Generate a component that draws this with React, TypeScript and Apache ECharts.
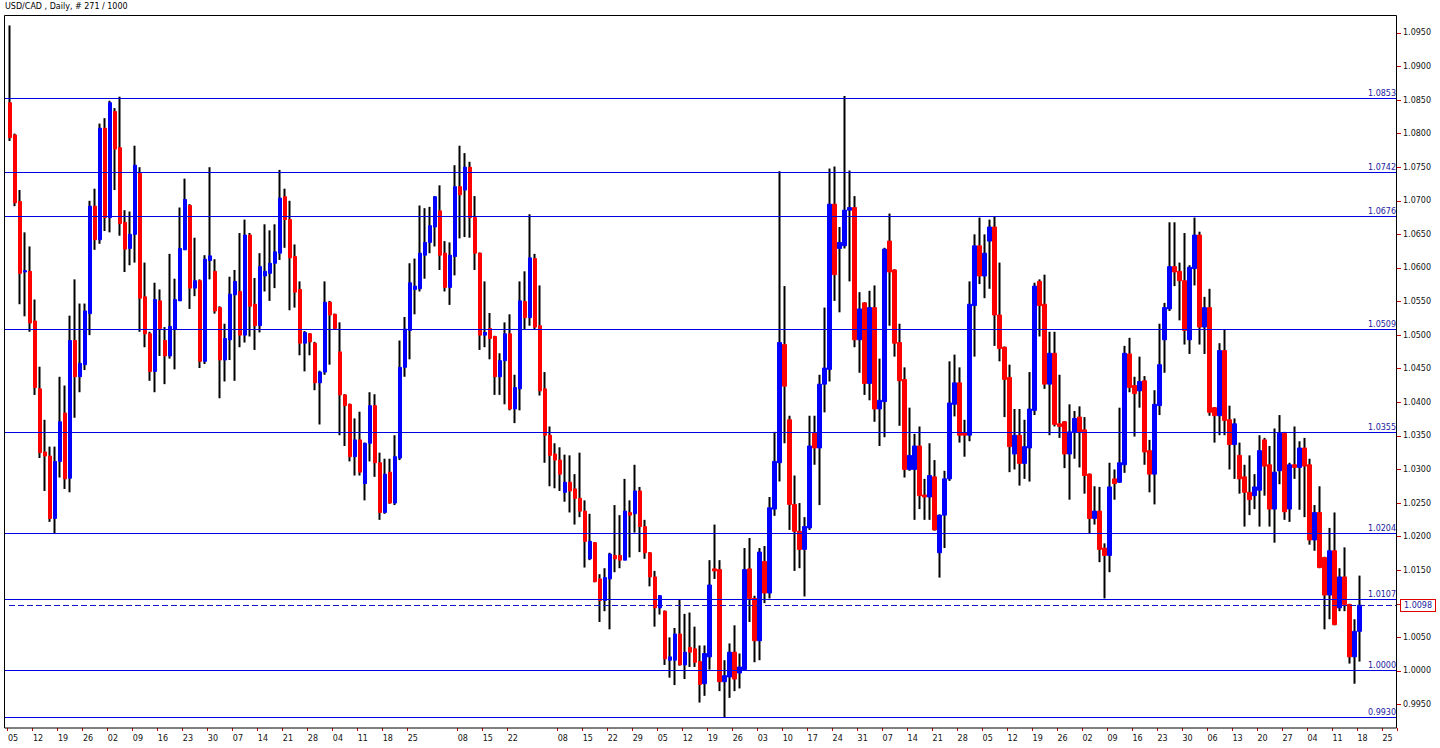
import React, { useEffect, useRef } from "react";
import * as echarts from "echarts";

const chartTitle = "USD/CAD , Daily, # 271 / 1000";

const openPrices = [
  1.0846, 1.0798, 1.0699, 1.0594, 1.0595, 1.0521, 1.0420, 1.0326, 1.0320, 1.0227,
  1.0312, 1.0384, 1.0287, 1.0492, 1.0438, 1.0456, 1.0532, 1.0692, 1.0642, 1.0808,
  1.0675, 1.0833, 1.0779, 1.0668, 1.0629, 1.0650, 1.0741, 1.0557, 1.0502, 1.0446,
  1.0551, 1.0492, 1.0469, 1.0509, 1.0551, 1.0627, 1.0693, 1.0570, 1.0581, 1.0461,
  1.0611, 1.0595, 1.0541, 1.0463, 1.0493, 1.0560, 1.0565, 1.0500, 1.0649, 1.0546,
  1.0514, 1.0588, 1.0592, 1.0607, 1.0622, 1.0706, 1.0672, 1.0617, 1.0568, 1.0488,
  1.0502, 1.0488, 1.0429, 1.0445, 1.0549, 1.0531, 1.0475, 1.0411, 1.0397, 1.0319,
  1.0344, 1.0279, 1.0339, 1.0395, 1.0310, 1.0236, 1.0296, 1.0250, 1.0317, 1.0452,
  1.0507, 1.0568, 1.0569, 1.0619, 1.0638, 1.0661, 1.0685, 1.0622, 1.0571, 1.0617,
  1.0721, 1.0716, 1.0750, 1.0675, 1.0622, 1.0500, 1.0510, 1.0498, 1.0438, 1.0462,
  1.0502, 1.0390, 1.0420, 1.0550, 1.0526, 1.0614, 1.0514, 1.0420, 1.0351, 1.0323,
  1.0314, 1.0266, 1.0281, 1.0271, 1.0257, 1.0238, 1.0167, 1.0191, 1.0137, 1.0105,
  1.0137, 1.0172, 1.0172, 1.0165, 1.0236, 1.0234, 1.0268, 1.0215, 1.0176, 1.0140,
  1.0094, 1.0089, 1.0016, 1.0016, 1.0055, 1.0009, 1.0035, 1.0033, 1.0014, 0.9981,
  1.0021, 1.0152, 1.0151, 0.9984, 0.9991, 1.0028, 0.9997, 1.0002, 1.0152, 1.0108,
  1.0045, 1.0163, 1.0116, 1.0241, 1.0310, 1.0486, 1.0374, 1.0248, 1.0208, 1.0181,
  1.0213, 1.0354, 1.0332, 1.0427, 1.0449, 1.0695, 1.0629, 1.0633, 1.0686, 1.0690,
  1.0493, 1.0548, 1.0428, 1.0541, 1.0390, 1.0401, 1.0640, 1.0597, 1.0489, 1.0434,
  1.0300, 1.0300, 1.0335, 1.0262, 1.0259, 1.0289, 1.0176, 1.0232, 1.0286, 1.0397,
  1.0429, 1.0354, 1.0351, 1.0544, 1.0633, 1.0588, 1.0640, 1.0661, 1.0530, 1.0482,
  1.0437, 1.0323, 1.0351, 1.0309, 1.0332, 1.0388, 1.0580, 1.0546, 1.0427, 1.0473,
  1.0368, 1.0371, 1.0323, 1.0356, 1.0378, 1.0359, 1.0293, 1.0227, 1.0238, 1.0183,
  1.0172, 1.0286, 1.0281, 1.0307, 1.0472, 1.0425, 1.0417, 1.0432, 1.0328, 1.0293,
  1.0395, 1.0493, 1.0539, 1.0602, 1.0595, 1.0581, 1.0493, 1.0599, 1.0649, 1.0512,
  1.0541, 1.0392, 1.0380, 1.0477, 1.0374, 1.0337, 1.0321, 1.0289, 1.0266, 1.0261,
  1.0269, 1.0344, 1.0307, 1.0241, 1.0298, 1.0354, 1.0241, 1.0307, 1.0303, 1.0332,
  1.0307, 1.0195, 1.0236, 1.0169, 1.0113, 1.0179, 1.0094, 1.0140, 1.0099, 1.0021,
  1.0059,
];

const highPrices = [
  1.0961, 1.0800, 1.0716, 1.0653, 1.0632, 1.0553, 1.0453, 1.0374, 1.0334, 1.0334,
  1.0438, 1.0425, 1.0529, 1.0583, 1.0547, 1.0547, 1.0700, 1.0718, 1.0815, 1.0823,
  1.0849, 1.0838, 1.0855, 1.0686, 1.0684, 1.0782, 1.0750, 1.0608, 1.0505, 1.0578,
  1.0568, 1.0512, 1.0621, 1.0584, 1.0690, 1.0733, 1.0695, 1.0645, 1.0583, 1.0619,
  1.0750, 1.0613, 1.0543, 1.0517, 1.0587, 1.0597, 1.0652, 1.0672, 1.0652, 1.0585,
  1.0622, 1.0665, 1.0656, 1.0665, 1.0746, 1.0718, 1.0700, 1.0635, 1.0580, 1.0506,
  1.0503, 1.0490, 1.0447, 1.0580, 1.0551, 1.0532, 1.0519, 1.0412, 1.0398, 1.0376,
  1.0386, 1.0340, 1.0415, 1.0412, 1.0325, 1.0316, 1.0316, 1.0351, 1.0492, 1.0527,
  1.0607, 1.0614, 1.0693, 1.0689, 1.0691, 1.0707, 1.0723, 1.0640, 1.0638, 1.0753,
  1.0782, 1.0771, 1.0758, 1.0707, 1.0623, 1.0580, 1.0533, 1.0499, 1.0473, 1.0519,
  1.0531, 1.0441, 1.0580, 1.0595, 1.0680, 1.0621, 1.0574, 1.0445, 1.0364, 1.0339,
  1.0333, 1.0322, 1.0321, 1.0293, 1.0325, 1.0254, 1.0234, 1.0192, 1.0144, 1.0153,
  1.0176, 1.0247, 1.0232, 1.0286, 1.0254, 1.0307, 1.0274, 1.0225, 1.0177, 1.0149,
  1.0113, 1.0090, 1.0050, 1.0064, 1.0106, 1.0085, 1.0087, 1.0066, 1.0038, 1.0038,
  1.0165, 1.0218, 1.0165, 1.0016, 1.0041, 1.0068, 1.0026, 1.0183, 1.0198, 1.0112,
  1.0183, 1.0186, 1.0259, 1.0356, 1.0744, 1.0573, 1.0380, 1.0291, 1.0250, 1.0229,
  1.0380, 1.0380, 1.0441, 1.0541, 1.0748, 1.0751, 1.0661, 1.0856, 1.0745, 1.0707,
  1.0564, 1.0549, 1.0566, 1.0574, 1.0465, 1.0630, 1.0681, 1.0598, 1.0517, 1.0452,
  1.0392, 1.0353, 1.0364, 1.0286, 1.0339, 1.0314, 1.0233, 1.0298, 1.0461, 1.0471,
  1.0452, 1.0374, 1.0580, 1.0650, 1.0675, 1.0650, 1.0672, 1.0677, 1.0608, 1.0483,
  1.0456, 1.0390, 1.0390, 1.0374, 1.0445, 1.0578, 1.0583, 1.0590, 1.0505, 1.0505,
  1.0441, 1.0372, 1.0397, 1.0387, 1.0394, 1.0378, 1.0294, 1.0275, 1.0274, 1.0190,
  1.0310, 1.0300, 1.0392, 1.0484, 1.0496, 1.0438, 1.0468, 1.0439, 1.0344, 1.0418,
  1.0517, 1.0548, 1.0668, 1.0668, 1.0608, 1.0652, 1.0604, 1.0675, 1.0654, 1.0557,
  1.0569, 1.0393, 1.0488, 1.0509, 1.0395, 1.0376, 1.0340, 1.0307, 1.0321, 1.0293,
  1.0351, 1.0347, 1.0335, 1.0361, 1.0381, 1.0356, 1.0310, 1.0364, 1.0342, 1.0347,
  1.0316, 1.0247, 1.0275, 1.0170, 1.0213, 1.0236, 1.0153, 1.0184, 1.0100, 1.0077,
  1.0142,
];

const lowPrices = [
  1.0789, 1.0692, 1.0546, 1.0528, 1.0505, 1.0411, 1.0317, 1.0268, 1.0222, 1.0205,
  1.0288, 1.0271, 1.0266, 1.0377, 1.0415, 1.0448, 1.0500, 1.0627, 1.0636, 1.0655,
  1.0653, 1.0716, 1.0648, 1.0594, 1.0604, 1.0608, 1.0505, 1.0482, 1.0432, 1.0415,
  1.0469, 1.0427, 1.0465, 1.0449, 1.0551, 1.0627, 1.0539, 1.0558, 1.0451, 1.0457,
  1.0583, 1.0532, 1.0406, 1.0431, 1.0463, 1.0432, 1.0482, 1.0489, 1.0498, 1.0478,
  1.0504, 1.0565, 1.0551, 1.0570, 1.0612, 1.0630, 1.0537, 1.0541, 1.0470, 1.0446,
  1.0470, 1.0418, 1.0367, 1.0441, 1.0456, 1.0508, 1.0351, 1.0335, 1.0312, 1.0291,
  1.0291, 1.0254, 1.0312, 1.0289, 1.0225, 1.0234, 1.0249, 1.0247, 1.0314, 1.0438,
  1.0464, 1.0531, 1.0565, 1.0584, 1.0622, 1.0632, 1.0597, 1.0565, 1.0545, 1.0589,
  1.0644, 1.0646, 1.0645, 1.0597, 1.0478, 1.0482, 1.0464, 1.0411, 1.0411, 1.0397,
  1.0388, 1.0369, 1.0388, 1.0509, 1.0514, 1.0509, 1.0410, 1.0310, 1.0275, 1.0272,
  1.0268, 1.0252, 1.0236, 1.0218, 1.0229, 1.0154, 1.0165, 1.0132, 1.0073, 1.0089,
  1.0062, 1.0147, 1.0153, 1.0165, 1.0169, 1.0206, 1.0177, 1.0167, 1.0126, 1.0066,
  1.0084, 1.0009, 0.9990, 0.9979, 1.0008, 0.9988, 1.0006, 1.0006, 0.9953, 0.9963,
  1.0002, 1.0137, 0.9970, 0.9931, 0.9960, 0.9970, 0.9974, 1.0001, 1.0073, 1.0013,
  1.0016, 1.0101, 1.0108, 1.0231, 1.0282, 1.0339, 1.0210, 1.0149, 1.0153, 1.0111,
  1.0210, 1.0307, 1.0247, 1.0385, 1.0431, 1.0551, 1.0534, 1.0629, 1.0580, 1.0482,
  1.0444, 1.0411, 1.0403, 1.0371, 1.0335, 1.0348, 1.0514, 1.0468, 1.0365, 1.0288,
  1.0298, 1.0225, 1.0241, 1.0225, 1.0225, 1.0209, 1.0139, 1.0183, 1.0283, 1.0379,
  1.0340, 1.0319, 1.0342, 1.0468, 1.0576, 1.0555, 1.0569, 1.0484, 1.0461, 1.0378,
  1.0296, 1.0300, 1.0276, 1.0286, 1.0282, 1.0381, 1.0498, 1.0420, 1.0351, 1.0364,
  1.0347, 1.0302, 1.0255, 1.0316, 1.0303, 1.0264, 1.0204, 1.0218, 1.0162, 1.0108,
  1.0147, 1.0255, 1.0280, 1.0295, 1.0415, 1.0349, 1.0392, 1.0307, 1.0266, 1.0248,
  1.0381, 1.0444, 1.0536, 1.0573, 1.0522, 1.0486, 1.0472, 1.0574, 1.0486, 1.0472,
  1.0380, 1.0340, 1.0351, 1.0351, 1.0300, 1.0286, 1.0264, 1.0215, 1.0232, 1.0241,
  1.0215, 1.0261, 1.0215, 1.0191, 1.0278, 1.0225, 1.0222, 1.0286, 1.0240, 1.0229,
  1.0188, 1.0179, 1.0153, 1.0062, 1.0077, 1.0068, 1.0089, 1.0089, 1.0011, 0.9981,
  1.0014,
];

const closePrices = [
  1.0794, 1.0697, 1.0592, 1.0596, 1.0518, 1.0422, 1.0325, 1.0320, 1.0227, 1.0312,
  1.0371, 1.0286, 1.0492, 1.0438, 1.0458, 1.0536, 1.0692, 1.0642, 1.0808, 1.0675,
  1.0846, 1.0777, 1.0666, 1.0628, 1.0650, 1.0753, 1.0555, 1.0502, 1.0446, 1.0553,
  1.0510, 1.0469, 1.0513, 1.0553, 1.0629, 1.0702, 1.0570, 1.0581, 1.0461, 1.0613,
  1.0618, 1.0536, 1.0463, 1.0495, 1.0561, 1.0580, 1.0500, 1.0649, 1.0543, 1.0514,
  1.0602, 1.0595, 1.0607, 1.0624, 1.0704, 1.0672, 1.0615, 1.0564, 1.0488, 1.0504,
  1.0490, 1.0429, 1.0445, 1.0549, 1.0530, 1.0510, 1.0411, 1.0395, 1.0319, 1.0344,
  1.0296, 1.0339, 1.0395, 1.0310, 1.0236, 1.0293, 1.0250, 1.0319, 1.0452, 1.0509,
  1.0578, 1.0573, 1.0622, 1.0638, 1.0663, 1.0706, 1.0619, 1.0571, 1.0619, 1.0721,
  1.0709, 1.0750, 1.0675, 1.0622, 1.0500, 1.0504, 1.0495, 1.0438, 1.0462, 1.0502,
  1.0390, 1.0422, 1.0551, 1.0526, 1.0615, 1.0512, 1.0417, 1.0351, 1.0321, 1.0314,
  1.0293, 1.0281, 1.0268, 1.0257, 1.0238, 1.0193, 1.0193, 1.0133, 1.0105, 1.0139,
  1.0174, 1.0167, 1.0165, 1.0238, 1.0232, 1.0268, 1.0215, 1.0176, 1.0140, 1.0094,
  1.0112, 1.0018, 1.0021, 1.0055, 1.0009, 1.0028, 1.0028, 1.0013, 0.9980, 1.0026,
  1.0128, 1.0149, 0.9984, 0.9993, 1.0028, 0.9988, 1.0006, 1.0151, 1.0108, 1.0045,
  1.0177, 1.0116, 1.0243, 1.0312, 1.0489, 1.0424, 1.0248, 1.0208, 1.0181, 1.0215,
  1.0335, 1.0332, 1.0427, 1.0451, 1.0695, 1.0590, 1.0638, 1.0686, 1.0690, 1.0493,
  1.0539, 1.0428, 1.0541, 1.0390, 1.0403, 1.0628, 1.0594, 1.0488, 1.0432, 1.0300,
  1.0321, 1.0335, 1.0261, 1.0259, 1.0291, 1.0210, 1.0232, 1.0286, 1.0399, 1.0429,
  1.0351, 1.0351, 1.0546, 1.0633, 1.0588, 1.0622, 1.0661, 1.0530, 1.0480, 1.0434,
  1.0334, 1.0351, 1.0309, 1.0334, 1.0390, 1.0573, 1.0544, 1.0427, 1.0473, 1.0367,
  1.0364, 1.0323, 1.0356, 1.0376, 1.0356, 1.0291, 1.0227, 1.0238, 1.0181, 1.0172,
  1.0274, 1.0279, 1.0310, 1.0473, 1.0422, 1.0413, 1.0431, 1.0326, 1.0293, 1.0397,
  1.0456, 1.0541, 1.0602, 1.0594, 1.0581, 1.0507, 1.0601, 1.0649, 1.0512, 1.0541,
  1.0385, 1.0380, 1.0477, 1.0373, 1.0337, 1.0368, 1.0286, 1.0266, 1.0255, 1.0274,
  1.0328, 1.0305, 1.0241, 1.0296, 1.0354, 1.0237, 1.0307, 1.0303, 1.0332, 1.0305,
  1.0195, 1.0236, 1.0154, 1.0113, 1.0179, 1.0069, 1.0140, 1.0099, 1.0021, 1.0059,
  1.0098,
];

// Date labels on the time axis and the bar each one sits under
const dateLabels = [
  "05", "12", "19", "26", "02", "09", "16", "23", "30", "07", "14", "21", "28", "04", "11", "18", "25",
  "08", "15", "22",
  "08", "15", "22", "29", "05", "12", "19", "26", "03", "10", "17", "24", "31", "07", "14", "21", "28",
  "05", "12", "19", "26", "02", "09", "16", "23", "30", "06", "13", "20", "27", "04", "11", "18", "25",
];
const dateLabelBars = [
  0, 5, 10, 15, 20, 25, 30, 35, 40, 45, 50, 55, 60, 65, 70, 75, 80,
  90, 95, 100,
  110, 115, 120, 125, 130, 135, 140, 145, 150, 155, 160, 165, 170, 175, 180, 185, 190,
  195, 200, 205, 210, 215, 220, 225, 230, 235, 240, 245, 250, 255, 260, 265, 270, 275,
];
const barSlots = 278;

const levelLines = [1.0853, 1.0742, 1.0676, 1.0509, 1.0355, 1.0204, 1.0107, 1.0, 0.993];
const currentPrice = 1.0098;
const priceTicks = [
  0.995, 1.0, 1.005, 1.01, 1.015, 1.02, 1.025, 1.03, 1.035, 1.04, 1.045, 1.05,
  1.055, 1.06, 1.065, 1.07, 1.075, 1.08, 1.085, 1.09, 1.095,
];
const priceMin = 0.99151;
const priceMax = 1.09766;

const FONT = "DejaVu Sans";
const LEVEL_BLUE = "#0000e0";
const LABEL_BLUE = "#1a1aa0";

export default function App() {
  const ref = useRef<HTMLDivElement>(null);

  useEffect(() => {
    if (!ref.current) return;
    const chart = echarts.init(ref.current, undefined, { renderer: "svg" });

    const categories = Array.from({ length: barSlots }, (_, i) => String(i));
    const labelMap = new Map<number, string>();
    dateLabelBars.forEach((b, k) => labelMap.set(b, dateLabels[k]));

    const ohlc = openPrices.map((o, i) => [o, closePrices[i], lowPrices[i], highPrices[i]]);
    const bodies = openPrices.map((o, i) => {
      const c = closePrices[i];
      return [o, c, Math.min(o, c), Math.max(o, c)];
    });

    const crisp = (y: number) => Math.round(y - 0.5) + 0.5;

    const option: any = {
      animation: false,
      backgroundColor: "#ffffff",
      title: {
        text: chartTitle,
        left: 5,
        top: 2,
        padding: 0,
        textStyle: { fontSize: 8, fontWeight: "normal", fontFamily: FONT, color: "#000" },
      },
      graphic: [
        {
          type: "rect",
          z: 100,
          silent: true,
          shape: { x: 4.5, y: 15.5, width: 1392, height: 712.5 },
          style: { fill: "none", stroke: "#000", lineWidth: 1 },
        },
      ],
      grid: { left: 7.5, top: 15, width: 1389.5, height: 713, containLabel: false },
      xAxis: {
        type: "category",
        data: categories,
        boundaryGap: true,
        axisLine: { show: false },
        splitLine: { show: false },
        axisTick: {
          show: true,
          interval: (i: number) => labelMap.has(i),
          length: 3,
          lineStyle: { color: "#d00000", width: 1 },
        },
        axisLabel: {
          interval: (i: number) => labelMap.has(i),
          formatter: (_v: string, i: number) => labelMap.get(i) ?? "",
          fontSize: 8,
          fontFamily: FONT,
          color: "#111",
          margin: 6,
          padding: [0, 0, 0, 6],
        },
      },
      yAxis: {
        type: "value",
        position: "right",
        min: priceMin,
        max: priceMax,
        splitLine: { show: false },
        axisLine: { show: false },
        axisTick: {
          show: true,
          customValues: priceTicks,
          length: 4,
          lineStyle: { color: "#d00000", width: 1 },
        },
        axisLabel: {
          customValues: priceTicks,
          formatter: (v: number) => v.toFixed(4),
          fontSize: 8,
          fontFamily: FONT,
          color: "#111",
          margin: 6,
        },
      },
      series: [
        {
          name: "wicks",
          type: "candlestick",
          data: ohlc,
          barWidth: 1,
          silent: true,
          z: 2,
          itemStyle: {
            color: "#000",
            color0: "#000",
            borderColor: "#000",
            borderColor0: "#000",
            borderWidth: 2,
          },
        },
        {
          name: "bodies",
          type: "candlestick",
          data: bodies,
          barWidth: 4,
          silent: true,
          z: 3,
          itemStyle: {
            color: "#0000ff",
            color0: "#ff0000",
            borderColor: "#0000ff",
            borderColor0: "#ff0000",
            borderWidth: 1,
          },
        },
        {
          name: "levels",
          type: "custom",
          silent: true,
          clip: false,
          z: 4,
          data: levelLines.map((v) => [0, v]),
          encode: { x: 0, y: 1 },
          renderItem: (params: any, api: any) => {
            const v = api.value(1);
            const y = crisp(api.coord([0, v])[1]);
            const cs = params.coordSys;
            const right = cs.x + cs.width;
            return {
              type: "group",
              children: [
                {
                  type: "line",
                  shape: { x1: 5, y1: y, x2: right, y2: y },
                  style: { stroke: LEVEL_BLUE, lineWidth: 1 },
                },
                {
                  type: "text",
                  style: {
                    text: v.toFixed(4),
                    x: right - 1,
                    y: y - 1.5,
                    align: "right",
                    verticalAlign: "bottom",
                    fill: LABEL_BLUE,
                    font: `8px "${FONT}"`,
                  },
                },
              ],
            };
          },
        },
        {
          name: "bid",
          type: "custom",
          silent: true,
          clip: false,
          z: 4,
          data: [[0, currentPrice]],
          encode: { x: 0, y: 1 },
          renderItem: (params: any, api: any) => {
            const v = api.value(1);
            const y = crisp(api.coord([0, v])[1]);
            const cs = params.coordSys;
            const right = cs.x + cs.width;
            return {
              type: "group",
              children: [
                {
                  type: "line",
                  shape: { x1: 9, y1: y, x2: right, y2: y },
                  style: { stroke: "#1414c8", lineWidth: 1, lineDash: [6, 3] },
                },
                {
                  type: "text",
                  style: {
                    text: v.toFixed(4),
                    x: right + 4,
                    y: y,
                    align: "left",
                    verticalAlign: "middle",
                    fill: LABEL_BLUE,
                    font: `8px "${FONT}"`,
                    backgroundColor: "#ffffff",
                    borderColor: "#e00000",
                    borderWidth: 1,
                    padding: [2, 3, 1, 3],
                  },
                },
              ],
            };
          },
        },
      ],
    };

    chart.setOption(option);
    return () => chart.dispose();
  }, []);

  return (
    <div
      ref={ref}
      style={{ position: "absolute", left: 0, top: 0, width: 1440, height: 748 }}
    />
  );
}
